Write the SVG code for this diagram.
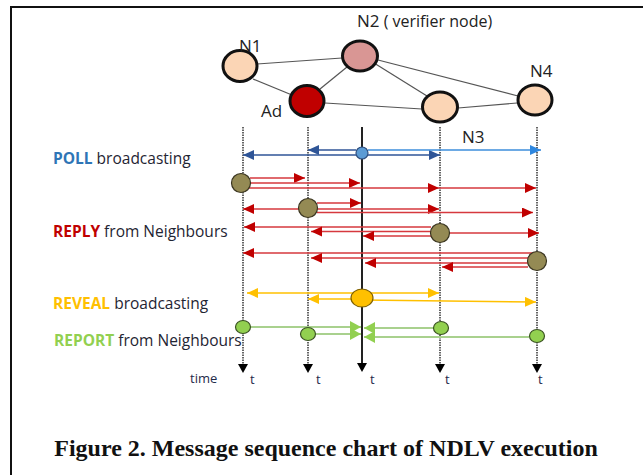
<svg xmlns="http://www.w3.org/2000/svg" width="643" height="475" viewBox="0 0 643 475">
<defs>
<style>
.lbl{font-family:"Open Sans","Liberation Sans",sans-serif;fill:#1f2533}
.nl{font-family:"Open Sans","Liberation Sans",sans-serif;font-size:17px;fill:#222}
.node{stroke:#111;stroke-width:3}
.edge{stroke:#555;stroke-width:1.2;fill:none}
.life{stroke:#333;stroke-width:1.5;stroke-dasharray:1.5 1;fill:none}
.blue{stroke:#2F5597;stroke-width:1.6;fill:none;marker-end:url(#ab)}
.lblue{stroke:#3D8EDB;stroke-width:1.6;fill:none;marker-end:url(#alb)}
.red{stroke:#D6393E;stroke-width:1.6;fill:none;marker-end:url(#ar)}
.org{stroke:#FFC000;stroke-width:1.6;fill:none;marker-end:url(#ao)}
.grn{stroke:#A9D18E;stroke-width:1.8;fill:none;marker-end:url(#ag)}
.olive{fill:#948A54;stroke:#3a3520;stroke-width:1.2}
.gdot{fill:#92D050;stroke:#3B5323;stroke-width:1.2}
.t{font-family:"Open Sans","Liberation Sans",sans-serif;font-size:13px;fill:#1f2a4a}
</style>
<marker id="ab" markerUnits="userSpaceOnUse" markerWidth="12" markerHeight="12" refX="11" refY="5" orient="auto"><path d="M0,0 L11,5 L0,10 z" fill="#2F5597"/></marker>
<marker id="alb" markerUnits="userSpaceOnUse" markerWidth="12" markerHeight="12" refX="11" refY="5" orient="auto"><path d="M0,0 L11,5 L0,10 z" fill="#2E86DE"/></marker>
<marker id="ar" markerUnits="userSpaceOnUse" markerWidth="12" markerHeight="12" refX="11" refY="5" orient="auto"><path d="M0,0 L11,5 L0,10 z" fill="#C00000"/></marker>
<marker id="ao" markerUnits="userSpaceOnUse" markerWidth="12" markerHeight="12" refX="11" refY="5" orient="auto"><path d="M0,0 L11,5 L0,10 z" fill="#FFC000"/></marker>
<marker id="ag" markerUnits="userSpaceOnUse" markerWidth="13" markerHeight="13" refX="11" refY="6" orient="auto"><path d="M0,0 L11,6 L0,12 z" fill="#92D050"/></marker>
<path id="tri" d="M-5,0 L5,0 L0,9 z" fill="#000"/>
</defs>
<rect width="643" height="475" fill="#fff"/>
<!-- frame -->
<path d="M11,475 V7 H643" fill="none" stroke="#111" stroke-width="2"/>

<!-- topology edges -->
<g id="topology-edges">
<line class="edge" x1="257" y1="64" x2="342" y2="58"/>
<line class="edge" x1="253" y1="79" x2="292" y2="95"/>
<line class="edge" x1="320" y1="89" x2="347" y2="67"/>
<line class="edge" x1="325" y1="103" x2="422" y2="109"/>
<line class="edge" x1="374" y1="63" x2="427" y2="96"/>
<line class="edge" x1="378" y1="60" x2="518" y2="96"/>
<line class="edge" x1="458" y1="108" x2="517" y2="103"/>
</g>

<g id="node-N1"><ellipse class="node" cx="240" cy="66" rx="17" ry="15.5" fill="#FBD5B5"/><text class="nl" x="239" y="52">N1</text></g>
<g id="node-N2"><ellipse class="node" cx="360" cy="56" rx="17.5" ry="15" fill="#D99694"/><text class="nl" x="357" y="27">N2<tspan font-size="16px"> ( verifier node)</tspan></text></g>
<g id="node-Ad"><ellipse class="node" cx="307" cy="101" rx="17" ry="15.5" fill="#C00000"/><text class="nl" x="261" y="117">Ad</text></g>
<g id="node-N3"><ellipse class="node" cx="440" cy="107" rx="17.5" ry="15" fill="#FBD5B5"/><text class="nl" x="462" y="143">N3</text></g>
<g id="node-N4"><ellipse class="node" cx="535" cy="100" rx="17" ry="15" fill="#FBD5B5"/><text class="nl" x="530" y="77">N4</text></g>

<!-- lifelines -->
<g id="lifelines">
<line class="life" x1="243" y1="127" x2="243" y2="364"/>
<line class="life" x1="308" y1="127" x2="308" y2="364"/>
<line x1="362" y1="127" x2="362" y2="364" stroke="#222" stroke-width="2"/>
<line class="life" x1="440" y1="127" x2="440" y2="364"/>
<line class="life" x1="537" y1="127" x2="537" y2="364"/>
<use href="#tri" x="243" y="364"/>
<use href="#tri" x="308" y="364"/>
<use href="#tri" x="362" y="363"/>
<use href="#tri" x="440" y="364"/>
<use href="#tri" x="537" y="364"/>
</g>

<!-- connectors -->
<g id="connectors">
<!-- POLL -->
<line class="blue" x1="356" y1="155" x2="243" y2="155"/>
<line class="blue" x1="356" y1="150" x2="308" y2="150"/>
<line class="blue" x1="368" y1="155" x2="440" y2="155"/>
<line class="lblue" x1="368" y1="150" x2="541" y2="150"/>
<!-- REPLY N1 -->
<line class="red" x1="250" y1="178" x2="305" y2="178"/>
<line class="red" x1="250" y1="183" x2="360" y2="183"/>
<line class="red" x1="241" y1="188" x2="439" y2="188"/>
<line class="red" x1="439" y1="188" x2="536" y2="188"/>
<!-- REPLY Ad -->
<line class="red" x1="299" y1="209" x2="243" y2="209"/>
<line class="red" x1="317" y1="203" x2="361" y2="203"/>
<line class="red" x1="317" y1="209" x2="439" y2="209"/>
<line class="red" x1="317" y1="212.5" x2="533" y2="212.5"/>
<!-- REPLY N3 -->
<line class="red" x1="449" y1="233" x2="539" y2="233"/>
<line class="red" x1="431" y1="227" x2="244" y2="227"/>
<line class="red" x1="431" y1="231.5" x2="311" y2="231.5"/>
<line class="red" x1="431" y1="236" x2="363" y2="236"/>
<!-- REPLY N4 -->
<line class="red" x1="537" y1="253" x2="243" y2="253"/>
<line class="red" x1="528" y1="258" x2="311" y2="258"/>
<line class="red" x1="528" y1="263" x2="365" y2="263"/>
<line class="red" x1="528" y1="267" x2="442" y2="267"/>
<!-- REVEAL -->
<line class="org" x1="362" y1="293" x2="247" y2="293"/>
<line class="org" x1="362" y1="293" x2="439" y2="293"/>
<line class="org" x1="362" y1="299" x2="308" y2="299"/>
<line class="org" x1="362" y1="300" x2="536" y2="302"/>
<!-- REPORT -->
<line class="grn" x1="251" y1="327" x2="361" y2="327"/>
<line class="grn" x1="316" y1="334" x2="361" y2="334"/>
<line class="grn" x1="433" y1="328" x2="364" y2="328"/>
<line class="grn" x1="529" y1="337" x2="364" y2="337"/>
</g>

<!-- message dots -->
<g id="poll-dot"><circle cx="362" cy="153" r="6" fill="#5B9BD5" stroke="#2F4F7F" stroke-width="1.2"/></g>
<g id="reply-N1"><circle class="olive" cx="241" cy="183" r="9.5"/></g>
<g id="reply-Ad"><circle class="olive" cx="308" cy="208" r="9.5"/></g>
<g id="reply-N3"><circle class="olive" cx="440" cy="233" r="9.5"/></g>
<g id="reply-N4"><circle class="olive" cx="537" cy="261" r="9.5"/></g>
<g id="reveal-dot"><ellipse cx="362" cy="298" rx="11" ry="9" fill="#FFC000" stroke="#7F6000" stroke-width="1.2"/></g>
<g id="report-N1"><ellipse class="gdot" cx="243" cy="327" rx="7.5" ry="6.5"/></g>
<g id="report-Ad"><ellipse class="gdot" cx="308" cy="334" rx="7.5" ry="6.5"/></g>
<g id="report-N3"><ellipse class="gdot" cx="441" cy="328" rx="7.5" ry="6.5"/></g>
<g id="report-N4"><ellipse class="gdot" cx="537" cy="336" rx="7.5" ry="6.5"/></g>

<!-- phase labels -->
<g id="labels" font-size="15.5px">
<text class="lbl" x="53" y="164"><tspan fill="#2E75B6" font-weight="bold">POLL</tspan> broadcasting</text>
<text class="lbl" x="53" y="237"><tspan fill="#C00000" font-weight="bold">REPLY</tspan> from Neighbours</text>
<text class="lbl" x="53" y="309"><tspan fill="#FFC000" font-weight="bold">REVEAL</tspan> broadcasting</text>
<text class="lbl" x="54" y="346"><tspan fill="#92D050" font-weight="bold">REPORT</tspan> from Neighbours</text>
<text class="t" x="190" y="383" fill="#222">time</text>
<text class="t" x="250" y="384">t</text>
<text class="t" x="316" y="384">t</text>
<text class="t" x="370" y="384">t</text>
<text class="t" x="445" y="384">t</text>
<text class="t" x="538" y="384">t</text>
</g>

<text x="326" y="456" text-anchor="middle" font-family="Liberation Serif, serif" font-weight="bold" font-size="24px" fill="#111">Figure 2. Message sequence chart of NDLV execution</text>
</svg>
